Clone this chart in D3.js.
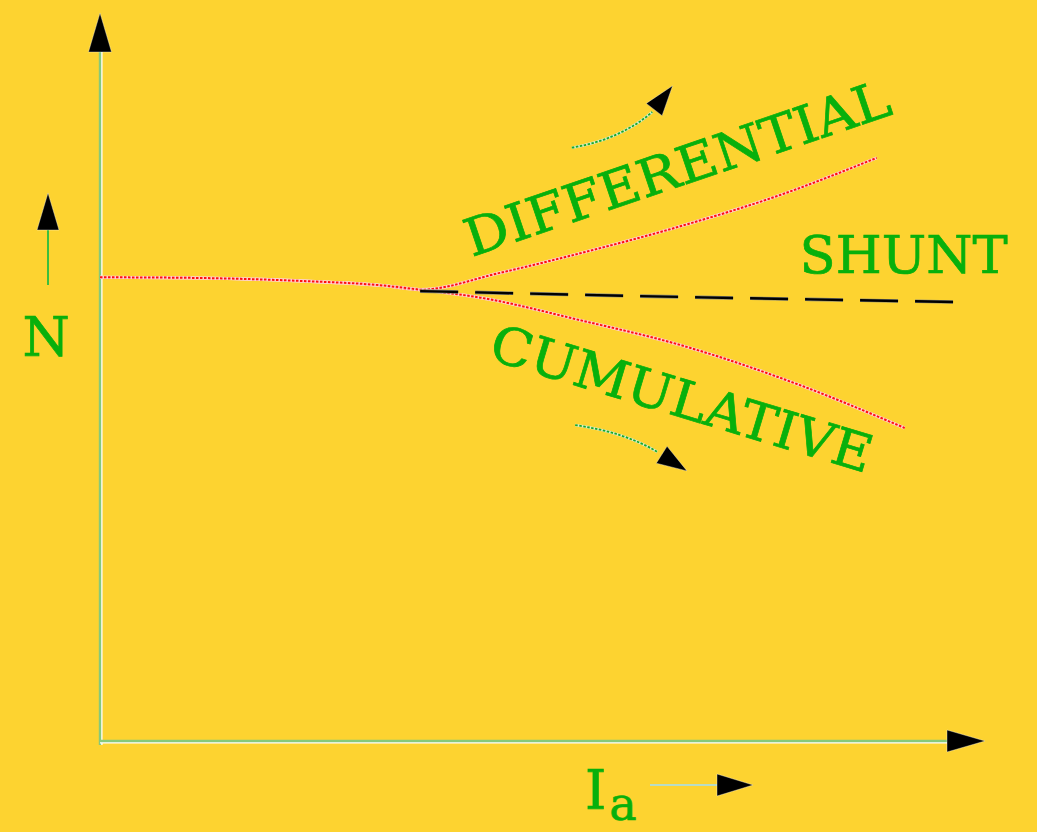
<!DOCTYPE html>
<html>
<head>
<meta charset="utf-8">
<script src="https://cdn.jsdelivr.net/npm/d3@7"></script>
<style>
  html, body { margin: 0; padding: 0; background: #fdd330; overflow: hidden; }
  text { font-family: "DejaVu Serif", serif; fill: #08b00c; stroke: #08b00c; stroke-width: 0.7px; }
</style>
</head>
<body>
<div id="chart"></div>
<script>
// speed N vs armature current Ia, in % of axis length
const commonPart = [[0, 63.7], [11.8, 63.6], [23.6, 63.2], [33.1, 62.6], [37.8, 62.0]];
const differential = [[47.2, 64.3], [56.7, 67.0], [68.5, 70.7], [80.3, 75.0], [91.7, 80.1]];
const cumulative = [[44.9, 60.9], [56.7, 57.8], [68.5, 54.4], [82.6, 48.9], [95.0, 43.0]];
const shunt = [[37.8, 61.8], [68.5, 61.0], [101.3, 60.3]];

// curved hint arrows: start, control, end, tip
const diffArrow = [[55.7, 81.5], [61.4, 82.6], [65.2, 86.4], [67.6, 90.0]];
const cumArrow = [[56.1, 43.4], [62.0, 42.4], [65.8, 39.7], [69.3, 37.1]];

const width = 1037, height = 832;

const svg = d3.select("#chart").append("svg")
    .attr("width", width)
    .attr("height", height);

svg.append("rect")
    .attr("width", width)
    .attr("height", height)
    .attr("fill", "#fdd330");

const x = d3.scaleLinear().domain([0, 100]).range([100, 947]);
const y = d3.scaleLinear().domain([0, 100]).range([741, 13]);

function arrowHead(tip, from, len, half) {
    const dx = tip[0] - from[0], dy = tip[1] - from[1];
    const d = Math.sqrt(dx * dx + dy * dy);
    const ux = dx / d, uy = dy / d;
    const bx = tip[0] - ux * len, by = tip[1] - uy * len;
    return `M${tip[0]},${tip[1]}L${bx - uy * half},${by + ux * half}L${bx + uy * half},${by - ux * half}Z`;
}

function drawArrowHead(tip, from, len, half) {
    svg.append("path")
        .attr("d", arrowHead(tip, from, len, half))
        .attr("fill", "#000")
        .attr("stroke", "#fff")
        .attr("stroke-width", 0.6)
        .attr("stroke-opacity", 0.6);
}

// axes
const x0 = x(0), y0 = y(0);
svg.append("line")
    .attr("x1", x0 + 1.8).attr("x2", x0 + 1.8)
    .attr("y1", y0 + 4).attr("y2", y(95))
    .attr("stroke", "#fff").attr("stroke-width", 1.5);
svg.append("line")
    .attr("x1", x0).attr("x2", x0)
    .attr("y1", y0 + 4).attr("y2", y(95))
    .attr("stroke", "#86c97a").attr("stroke-width", 2.4);
drawArrowHead([x0, y(100)], [x0, y(50)], 39, 11.5);

svg.append("line")
    .attr("x1", x0).attr("x2", x(100))
    .attr("y1", y0 + 1.8).attr("y2", y0 + 1.8)
    .attr("stroke", "#fff").attr("stroke-width", 1.5);
svg.append("line")
    .attr("x1", x0).attr("x2", x(100))
    .attr("y1", y0).attr("y2", y0)
    .attr("stroke", "#86c97a").attr("stroke-width", 2.4);
drawArrowHead([985, y0], [x(50), y0], 38, 11);

// curves
const line = d3.line()
    .x(d => x(d[0]))
    .y(d => y(d[1]))
    .curve(d3.curveMonotoneX);

[commonPart.concat(differential), commonPart.concat(cumulative)].forEach(pts => {
    svg.append("path")
        .attr("d", line(pts))
        .attr("fill", "none")
        .attr("stroke", "#ffd0d0")
        .attr("stroke-width", 3.2);
    svg.append("path")
        .attr("d", line(pts))
        .attr("fill", "none")
        .attr("stroke", "#ff1010")
        .attr("stroke-width", 2)
        .attr("stroke-dasharray", "2.5,1.5");
});

svg.append("path")
    .attr("d", line(shunt))
    .attr("fill", "none")
    .attr("stroke", "#8a8a7a")
    .attr("stroke-width", 3.6)
    .attr("stroke-dasharray", "38,17");
svg.append("path")
    .attr("d", line(shunt))
    .attr("fill", "none")
    .attr("stroke", "#000")
    .attr("stroke-width", 2.4)
    .attr("stroke-dasharray", "38,17");

// curved hint arrows
function hint(a) {
    const p = a.map(d => [x(d[0]), y(d[1])]);
    svg.append("path")
        .attr("d", `M${p[0][0]},${p[0][1]}Q${p[1][0]},${p[1][1]} ${p[2][0]},${p[2][1]}`)
        .attr("fill", "none")
        .attr("stroke", "#d8eec8")
        .attr("stroke-width", 2.6);
    svg.append("path")
        .attr("d", `M${p[0][0]},${p[0][1]}Q${p[1][0]},${p[1][1]} ${p[2][0]},${p[2][1]}`)
        .attr("fill", "none")
        .attr("stroke", "#1aa82a")
        .attr("stroke-width", 1.8)
        .attr("stroke-dasharray", "2.5,1.5");
    drawArrowHead(p[3], p[2], 30, 10);
}
hint(diffArrow);
hint(cumArrow);

// labels
svg.append("text")
    .attr("transform", `translate(${x(43.9)},${y(66.5)}) rotate(-18.7)`)
    .attr("font-size", 52)
    .attr("textLength", 446)
    .attr("lengthAdjust", "spacingAndGlyphs")
    .text("DIFFERENTIAL");

svg.append("text")
    .attr("transform", `translate(${x(45.7)},${y(52.5)}) rotate(16.8)`)
    .attr("font-size", 52)
    .attr("textLength", 396)
    .attr("lengthAdjust", "spacingAndGlyphs")
    .text("CUMULATIVE");

svg.append("text")
    .attr("x", x(82.6))
    .attr("y", y(64.3))
    .attr("font-size", 52)
    .attr("textLength", 208)
    .attr("lengthAdjust", "spacingAndGlyphs")
    .text("SHUNT");

// N label with small arrow
svg.append("line")
    .attr("x1", 48).attr("x2", 48)
    .attr("y1", 285).attr("y2", 228)
    .attr("stroke", "#3cbf3c").attr("stroke-width", 2);
drawArrowHead([48, 193], [48, 285], 37, 11);
svg.append("text")
    .attr("x", 46)
    .attr("y", 356)
    .attr("text-anchor", "middle")
    .attr("font-size", 54)
    .text("N");

// Ia label with small arrow
const ia = svg.append("text")
    .attr("x", 585)
    .attr("y", 809)
    .attr("font-size", 54);
ia.append("tspan").text("I");
ia.append("tspan").attr("dy", 11).attr("dx", 3).attr("font-size", 46).text("a");
svg.append("line")
    .attr("x1", 650).attr("x2", 719)
    .attr("y1", 785).attr("y2", 785)
    .attr("stroke", "#b8dcc4").attr("stroke-width", 2.2);
drawArrowHead([753, 785], [650, 785], 36, 11);
</script>
</body>
</html>
